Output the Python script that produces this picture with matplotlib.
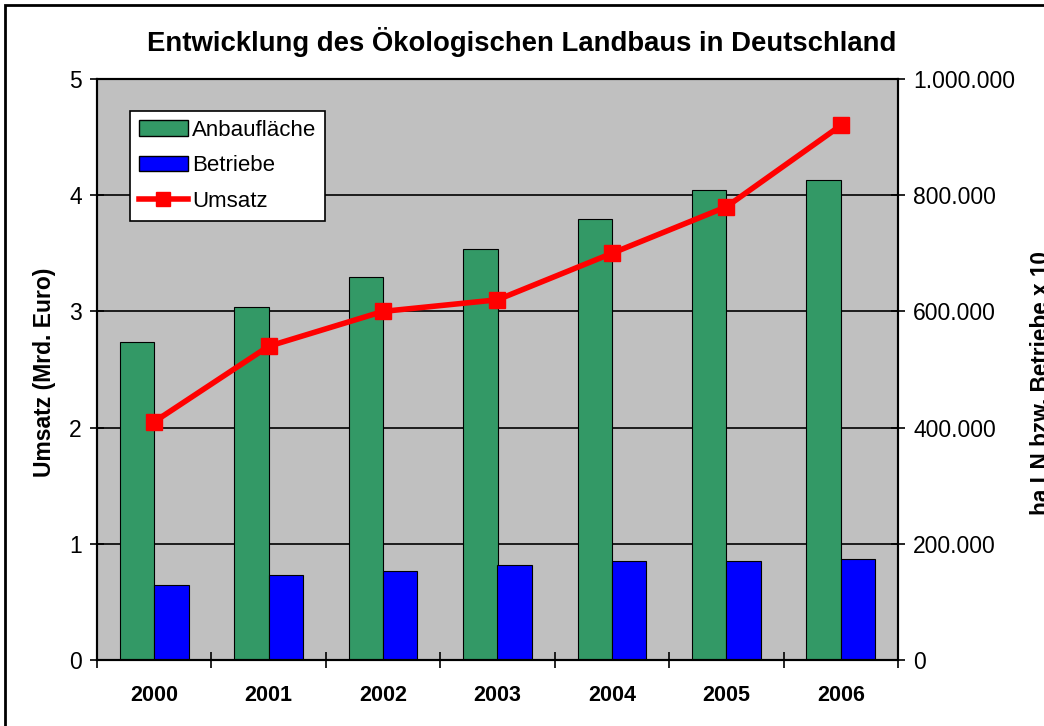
import matplotlib.pyplot as plt
import matplotlib.ticker as mticker
from matplotlib.patches import Rectangle, Patch
from matplotlib.lines import Line2D
import numpy as np

plt.rcParams['font.family'] = ['Liberation Sans', 'DejaVu Sans']

jahre = ["2000", "2001", "2002", "2003", "2004", "2005", "2006"]
anbauflaeche = [547000, 607000, 659000, 707000, 759000, 809000, 826000]
betriebe = [129000, 146000, 153000, 163000, 170000, 170000, 174000]
umsatz = [2.05, 2.7, 3.0, 3.1, 3.5, 3.9, 4.6]

gruen = "#339966"
blau = "#0000FF"
rot = "#FF0000"
grau = "#C0C0C0"

fig = plt.figure(figsize=(10.44, 7.26), dpi=100)
ax2 = fig.add_axes([97 / 1044, 1 - 660 / 726, 801 / 1044, 581 / 726])
ax = ax2.twinx()

x = np.arange(len(jahre))
w = 0.3

# bars on right-hand scale
ax2.set_facecolor(grau)
ax2.bar(x - w / 2, anbauflaeche, w, color=gruen, edgecolor="black", linewidth=0.8, zorder=2)
ax2.bar(x + w / 2, betriebe, w, color=blau, edgecolor="black", linewidth=0.8, zorder=2)
ax2.set_ylim(0, 1000000)
ax2.set_yticks(np.arange(0, 1000001, 200000))
ax2.yaxis.set_major_formatter(mticker.FuncFormatter(lambda v, p: f"{int(v):,}".replace(",", ".")))
ax2.yaxis.tick_right()
ax2.grid(axis="y", color="black", linewidth=1.2, zorder=1)
ax2.set_axisbelow(True)

# line on left-hand scale, drawn above the bars
ax.set_zorder(ax2.get_zorder() + 1)
ax.patch.set_visible(False)
ax.plot(x, umsatz, color=rot, linewidth=4, marker="s", markersize=12, zorder=3)
ax.set_ylim(0, 5)
ax.set_yticks(range(0, 6))
ax.yaxis.tick_left()

ax2.set_xlim(-0.5, len(jahre) - 0.5)
ax2.set_xticks(np.arange(-0.5, len(jahre), 1))
ax2.set_xticklabels([])
ax2.set_xticks(x, minor=True)
ax2.set_xticklabels(jahre, minor=True, fontweight="bold", fontsize=15.5)
ax2.tick_params(axis="x", which="major", direction="inout", length=12, width=1.2)
ax2.tick_params(axis="x", which="minor", length=0, pad=18)

for a in (ax, ax2):
    a.tick_params(axis="y", direction="inout", length=10, width=1.2, labelsize=16.5, pad=6)
    for s in a.spines.values():
        s.set_linewidth(1.5)
        s.set_color("black")

fig.text(45 / 1044, 1 - 372 / 726, "Umsatz (Mrd. Euro)", rotation=90, ha="center", va="center",
         fontsize=16.5, fontweight="bold")
fig.text(1030 / 1044, 1 - 383 / 726, "ha LN bzw. Betriebe x 10", rotation=90, ha="left", va="center",
         fontsize=16.3, fontweight="bold")
fig.text(0.5, 1 - 42 / 726, "Entwicklung des Ökologischen Landbaus in Deutschland", ha="center", va="center",
         fontsize=19.8, fontweight="bold")

handles = [
    Patch(facecolor=gruen, edgecolor="black", label="Anbaufläche"),
    Patch(facecolor=blau, edgecolor="black", label="Betriebe"),
    Line2D([0], [0], color=rot, linewidth=4, marker="s", markersize=10, label="Umsatz"),
]
leg = ax.legend(handles=handles, loc="upper left", bbox_to_anchor=(0.041, 0.945), borderaxespad=0,
                fontsize=16, frameon=True, fancybox=False, edgecolor="black", framealpha=1,
                handlelength=2.2, handletextpad=0.2, labelspacing=0.65, borderpad=0.4)
leg.get_frame().set_linewidth(1.2)

# outer chart border (partially cut off at right/bottom)
fig.patches.append(Rectangle((5 / 1044, -0.05), 1.2, 1 - 5 / 726 + 0.05, transform=fig.transFigure,
                             fill=False, edgecolor="black", linewidth=2))

fig.savefig("out.png", dpi=100)
